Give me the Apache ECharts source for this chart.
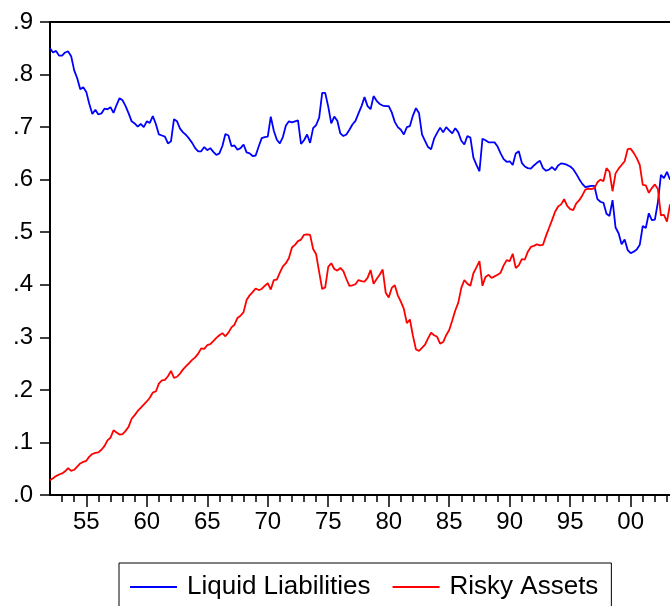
<!DOCTYPE html>
<html>
<head>
<meta charset="utf-8">
<script src="https://cdn.jsdelivr.net/npm/echarts@6/dist/echarts.min.js"></script>
<style>
  html, body { margin: 0; padding: 0; background: #fff; }
  #chart { width: 670px; height: 606px; }
</style>
</head>
<body>
<div id="chart"></div>
<script>
// quarterly data, 1952Q1 onward
var startYear = 1952;

var liquid = [
  0.850, 0.842, 0.845, 0.836, 0.836, 0.842, 0.844, 0.835, 0.808, 0.793,
  0.772, 0.776, 0.767, 0.744, 0.725, 0.733, 0.724, 0.726, 0.735, 0.734,
  0.738, 0.727, 0.742, 0.755, 0.751, 0.740, 0.726, 0.711, 0.707, 0.701,
  0.706, 0.700, 0.711, 0.708, 0.721, 0.706, 0.686, 0.684, 0.682, 0.669,
  0.673, 0.715, 0.711, 0.697, 0.690, 0.685, 0.678, 0.670, 0.660, 0.654,
  0.654, 0.662, 0.656, 0.660, 0.653, 0.647, 0.650, 0.664, 0.687, 0.684,
  0.664, 0.665, 0.657, 0.660, 0.667, 0.652, 0.650, 0.645, 0.646, 0.663,
  0.679, 0.681, 0.682, 0.720, 0.693, 0.676, 0.669, 0.681, 0.703, 0.711,
  0.709, 0.711, 0.713, 0.668, 0.675, 0.686, 0.670, 0.698, 0.704, 0.718,
  0.765, 0.765, 0.739, 0.707, 0.720, 0.712, 0.688, 0.683, 0.686, 0.695,
  0.705, 0.712, 0.726, 0.740, 0.757, 0.740, 0.734, 0.759, 0.750, 0.744,
  0.741, 0.740, 0.740, 0.728, 0.710, 0.700, 0.695, 0.686, 0.700, 0.702,
  0.722, 0.736, 0.727, 0.686, 0.674, 0.662, 0.658, 0.678, 0.689, 0.699,
  0.690, 0.700, 0.694, 0.688, 0.698, 0.690, 0.674, 0.667, 0.683, 0.680,
  0.642, 0.628, 0.616, 0.678, 0.675, 0.671, 0.671, 0.671, 0.663, 0.650,
  0.639, 0.634, 0.635, 0.628, 0.650, 0.654, 0.632, 0.625, 0.622, 0.621,
  0.627, 0.632, 0.636, 0.622, 0.617, 0.619, 0.624, 0.618, 0.627, 0.631,
  0.630, 0.628, 0.625, 0.620, 0.611, 0.601, 0.592, 0.586, 0.587, 0.588,
  0.588, 0.563, 0.558, 0.556, 0.535, 0.531, 0.561, 0.509, 0.498, 0.477,
  0.486, 0.466, 0.460, 0.463, 0.467, 0.476, 0.512, 0.508, 0.536, 0.523,
  0.524, 0.557, 0.609, 0.603, 0.615, 0.600
];

var risky = [
  0.028, 0.032, 0.036, 0.039, 0.041, 0.045, 0.051, 0.046, 0.048, 0.054,
  0.060, 0.063, 0.065, 0.073, 0.078, 0.080, 0.081, 0.086, 0.093, 0.104,
  0.109, 0.123, 0.119, 0.115, 0.116, 0.122, 0.130, 0.145, 0.152, 0.160,
  0.166, 0.172, 0.178, 0.185, 0.195, 0.197, 0.212, 0.218, 0.219, 0.226,
  0.236, 0.223, 0.225, 0.231, 0.239, 0.245, 0.251, 0.257, 0.262, 0.269,
  0.279, 0.278, 0.285, 0.287, 0.293, 0.299, 0.304, 0.308, 0.302, 0.309,
  0.319, 0.324, 0.337, 0.341, 0.348, 0.371, 0.380, 0.386, 0.393, 0.390,
  0.392, 0.398, 0.403, 0.391, 0.409, 0.410, 0.423, 0.435, 0.441, 0.451,
  0.471, 0.476, 0.483, 0.486, 0.495, 0.496, 0.495, 0.468, 0.458, 0.424,
  0.392, 0.395, 0.434, 0.441, 0.430, 0.427, 0.432, 0.426, 0.411, 0.398,
  0.399, 0.401, 0.409, 0.407, 0.406, 0.413, 0.428, 0.402, 0.411, 0.419,
  0.429, 0.385, 0.376, 0.394, 0.399, 0.380, 0.368, 0.354, 0.327, 0.334,
  0.303, 0.277, 0.274, 0.280, 0.286, 0.298, 0.309, 0.304, 0.301, 0.288,
  0.291, 0.304, 0.314, 0.332, 0.351, 0.366, 0.394, 0.409, 0.402, 0.398,
  0.422, 0.433, 0.445, 0.398, 0.415, 0.419, 0.413, 0.416, 0.419, 0.423,
  0.437, 0.447, 0.445, 0.459, 0.432, 0.437, 0.449, 0.448, 0.463, 0.472,
  0.474, 0.477, 0.475, 0.476, 0.493, 0.508, 0.523, 0.539, 0.549, 0.553,
  0.563, 0.550, 0.544, 0.542, 0.555, 0.561, 0.570, 0.581, 0.583, 0.582,
  0.584, 0.595, 0.600, 0.597, 0.622, 0.615, 0.578, 0.612, 0.621, 0.628,
  0.635, 0.658, 0.659, 0.651, 0.641, 0.628, 0.590, 0.589, 0.575, 0.584,
  0.591, 0.582, 0.532, 0.533, 0.520, 0.553
];

var majorYears = [1955, 1960, 1965, 1970, 1975, 1980, 1985, 1990, 1995, 2000];

function draw_chart(){
    var chart = echarts.init(document.getElementById('chart'));
    var font = '"Liberation Sans", Arial, sans-serif';

    function pairs(vals){
        var out = [];
        for (var i = 0; i < vals.length; i++) {
            out.push([startYear + i * 0.25, vals[i]]);
        }
        return out;
    }

    var xMin = startYear, xMax = 2003.25;

    var option = {
        animation: false,
        grid: { left: 50, right: 0, top: 22, bottom: 111 },
        legend: {
            left: 119, top: 563,
            padding: [9, 13, 20, 11],
            borderColor: '#000', borderWidth: 1,
            itemWidth: 47, itemHeight: 2, itemGap: 22,
            icon: 'rect',
            textStyle: { fontFamily: font, fontSize: 26, color: '#000', lineHeight: 30, padding: [0, 0, 0, 5] },
            data: ['Liquid Liabilities', 'Risky Assets']
        },
        xAxis: [{
            type: 'value', min: xMin, max: xMax, interval: 1,
            position: 'bottom',
            splitLine: { show: false },
            axisLine: { lineStyle: { color: '#000', width: 2 } },
            axisTick: { length: 7, lineStyle: { color: '#000', width: 1.5 } },
            axisLabel: {
                margin: 15, fontFamily: font, fontSize: 24, color: '#000',
                showMinLabel: false, showMaxLabel: false,
                formatter: function(v){
                    if (majorYears.indexOf(v) < 0) return '';
                    var s = String(v % 100);
                    return s.length < 2 ? '0' + s : s;
                }
            }
        }, {
            type: 'value', min: xMin, max: xMax,
            position: 'bottom',
            splitLine: { show: false },
            axisLine: { show: false },
            axisTick: { customValues: majorYears, length: 12, lineStyle: { color: '#000', width: 1.5 } },
            axisLabel: { show: false }
        }, {
            type: 'value', min: xMin, max: xMax,
            position: 'top',
            splitLine: { show: false },
            axisLine: { lineStyle: { color: '#000', width: 2 } },
            axisTick: { show: false },
            axisLabel: { show: false }
        }],
        yAxis: [{
            type: 'value', min: 0, max: 0.9, interval: 0.1,
            splitLine: { show: false },
            axisLine: { show: true, lineStyle: { color: '#000', width: 2 } },
            axisTick: { show: true, length: 10, lineStyle: { color: '#000', width: 1.5 } },
            axisLabel: {
                margin: 17, fontFamily: font, fontSize: 24, color: '#000',
                formatter: function(v){ return '.' + Math.round(v * 10); }
            }
        }],
        series: [{
            name: 'Liquid Liabilities', type: 'line',
            data: pairs(liquid), showSymbol: false, symbol: 'none',
            itemStyle: { color: '#0000ff' },
            lineStyle: { color: '#0000ff', width: 1.8 }
        }, {
            name: 'Risky Assets', type: 'line',
            data: pairs(risky), showSymbol: false, symbol: 'none',
            itemStyle: { color: '#ff0000' },
            lineStyle: { color: '#ff0000', width: 1.8 }
        }]
    };
    chart.setOption(option);
}
draw_chart();
</script>
</body>
</html>
